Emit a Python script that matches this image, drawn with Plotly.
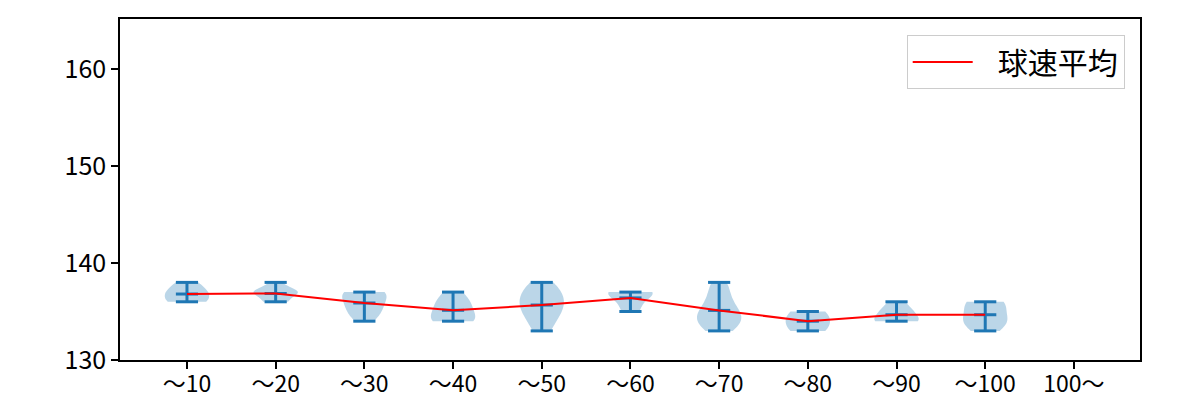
import numpy as np
import plotly.graph_objects as go

categories = ["〜10", "〜20", "〜30", "〜40", "〜50", "〜60", "〜70", "〜80", "〜90", "〜100", "100〜"]

# estimated pitch-speed samples (km/h) per pitch-count bucket
speeds_10 = [136, 136, 137, 137, 138]
speeds_20 = [136, 136, 137, 137, 137, 137, 138]
speeds_30 = [134, 135, 135, 136, 136, 137, 137, 137]
speeds_40 = [134, 134, 134, 135, 135, 136, 136, 137]
speeds_50 = [133, 134, 135, 135, 136, 136, 137, 137, 138]
speeds_60 = [135, 136, 137, 137, 137]
speeds_70 = [133, 134, 134, 134, 135, 135, 136, 137, 138]
speeds_80 = [133, 134, 135]
speeds_90 = [134, 134, 134, 135, 135, 136]
speeds_100 = [133, 134, 134, 135, 136, 136]

samples = [speeds_10, speeds_20, speeds_30, speeds_40, speeds_50,
           speeds_60, speeds_70, speeds_80, speeds_90, speeds_100]

y_ticks = [130, 140, 150, 160]
legend_label = "球速平均"

BLUE = "#1f77b4"
FONT = "Noto Sans CJK JP"

fig = go.Figure()

positions = list(range(1, len(categories) + 1))

for pos, data in zip(positions, samples):
    arr = np.asarray(data, dtype=float)
    bw = arr.std(ddof=1) * len(arr) ** (-1 / 5)
    fig.add_trace(go.Violin(
        x=[pos] * len(arr), y=arr,
        width=0.5, scalemode="width", spanmode="hard", bandwidth=bw,
        points=False, fillcolor="rgba(31,119,180,0.3)",
        line=dict(width=0, color="rgba(31,119,180,0.3)"),
        box_visible=False, meanline_visible=False,
        showlegend=False, hoverinfo="skip", orientation="v",
    ))

# min/max caps, vertical bars and mean bars
lx, ly = [], []
for pos, data in zip(positions, samples):
    lo, hi, mu = min(data), max(data), float(np.mean(data))
    lx += [pos, pos, None]
    ly += [lo, hi, None]
    for v in (lo, hi, mu):
        lx += [pos - 0.125, pos + 0.125, None]
        ly += [v, v, None]
fig.add_trace(go.Scatter(x=lx, y=ly, mode="lines", line=dict(color=BLUE, width=3),
                         showlegend=False, hoverinfo="skip"))

means = [float(np.mean(d)) for d in samples]
fig.add_trace(go.Scatter(x=positions[:len(means)], y=means, mode="lines",
                         line=dict(color="red", width=2),
                         name="\u00a0\u00a0\u00a0" + legend_label))

fig.update_layout(
    width=1200, height=400,
    margin=dict(l=120, r=60, t=19, b=40),
    paper_bgcolor="white", plot_bgcolor="white",
    violinmode="overlay",
    font=dict(family=FONT, size=25, color="black"),
    legend=dict(x=0.985, y=0.953, xanchor="right", yanchor="top",
                bgcolor="white", bordercolor="#cccccc", borderwidth=1,
                font=dict(size=30, family=FONT), itemwidth=60),
    showlegend=True,
)
fig.update_xaxes(range=[0.245, 11.745], tickvals=positions, ticktext=categories,
                 automargin=False, tickfont=dict(size=23), ticklabelstandoff=-4,
                 showline=True, linecolor="black", linewidth=1.7, mirror=True,
                 ticks="outside", ticklen=7, tickwidth=1.7, tickcolor="black",
                 showgrid=False, zeroline=False)
fig.update_yaxes(range=[130, 165.15], tickvals=y_ticks, automargin=False,
                 showline=True, linecolor="black", linewidth=1.7, mirror=True,
                 ticks="outside", ticklen=7, tickwidth=1.7, tickcolor="black",
                 showgrid=False, zeroline=False)

fig.write_html("out.html")
